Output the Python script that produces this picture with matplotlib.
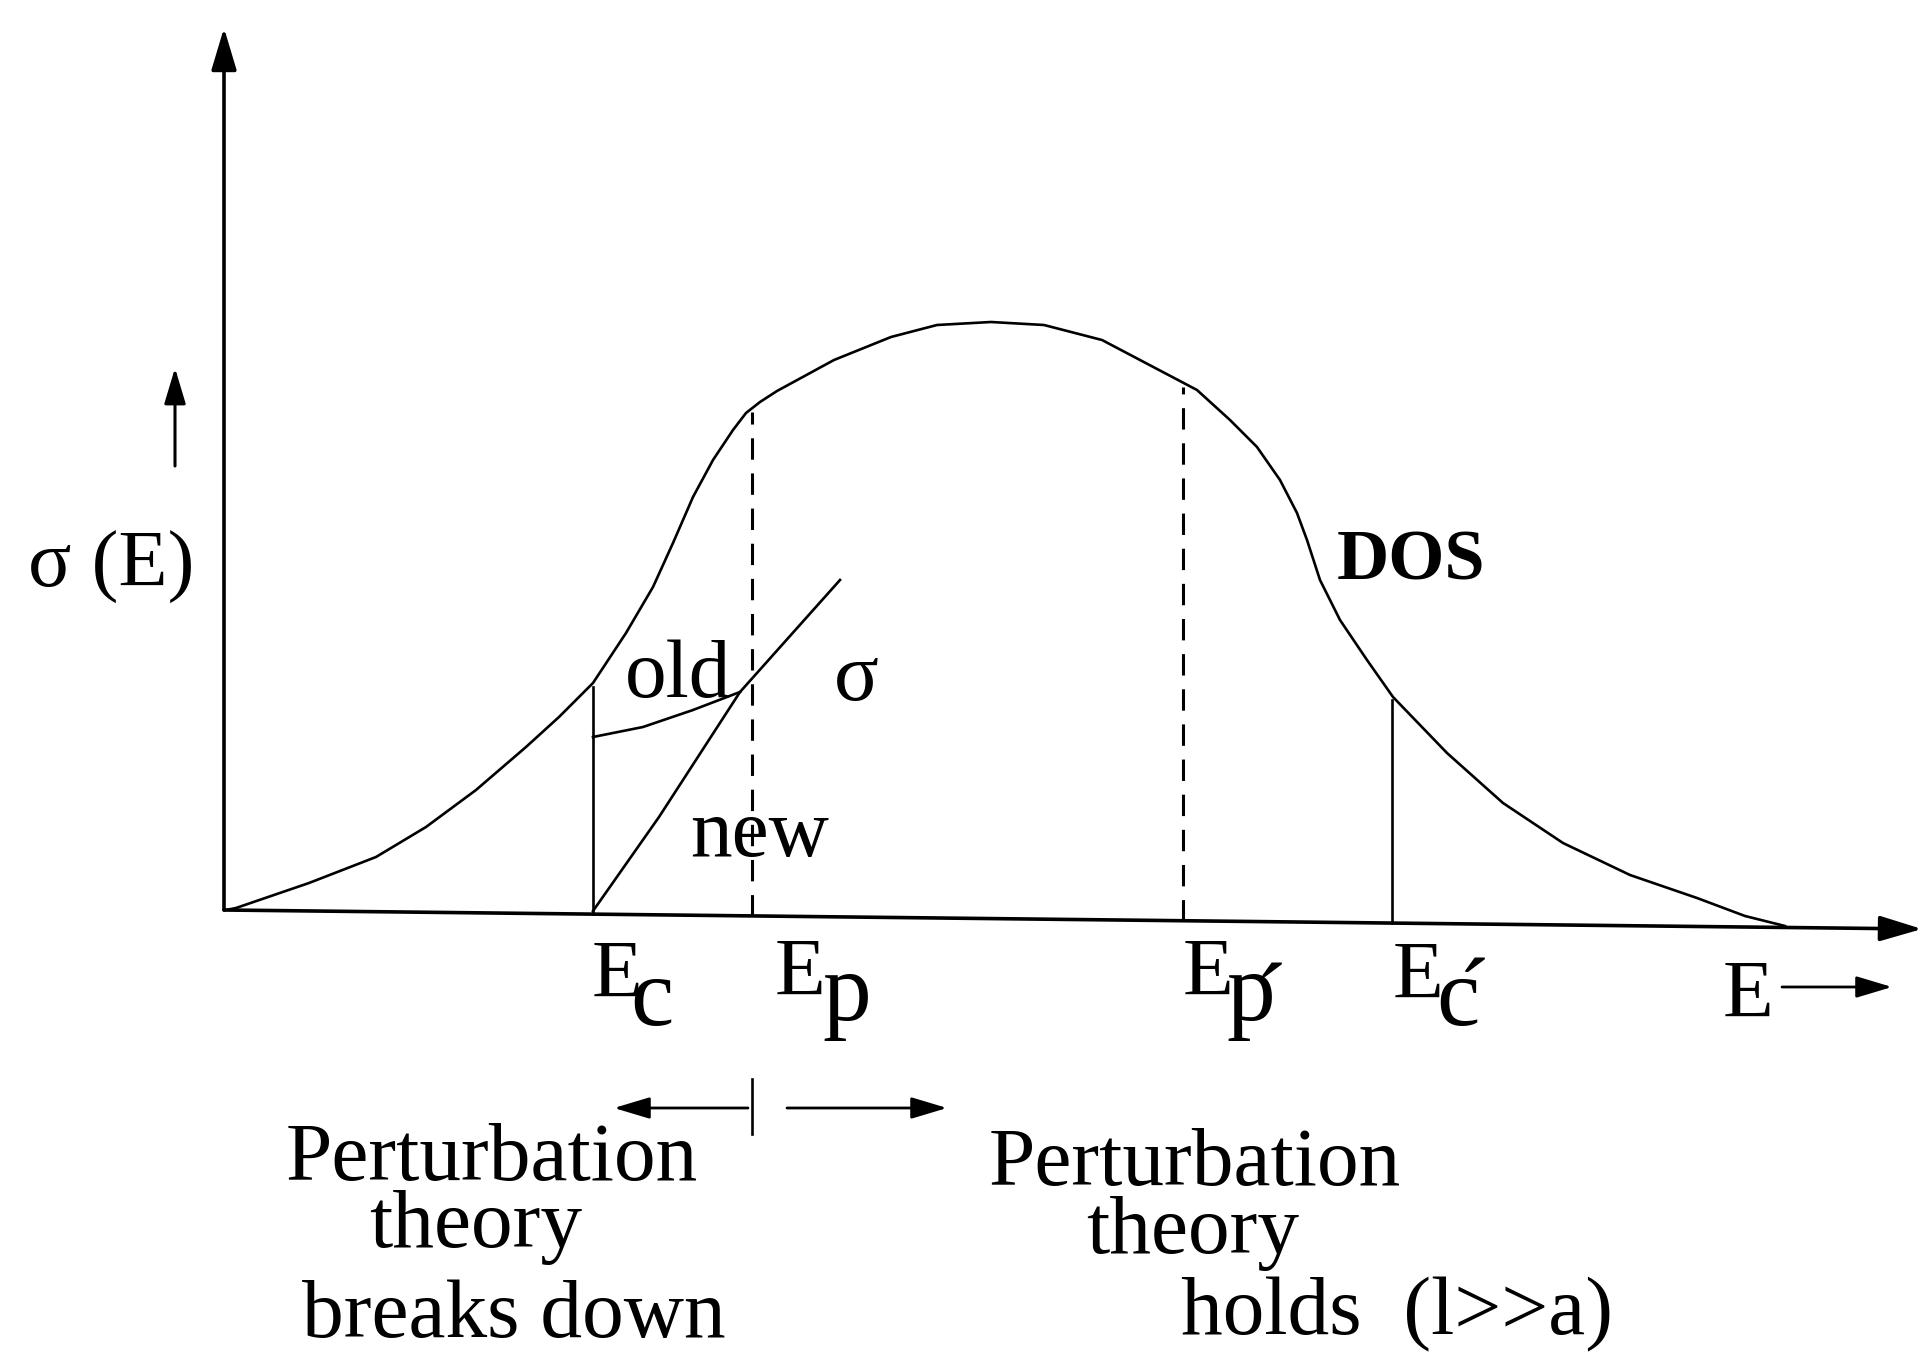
import matplotlib
matplotlib.use("Agg")
from matplotlib import pyplot as plt
import numpy as np

plt.rcParams['font.family'] = ['Liberation Serif', 'DejaVu Serif']

# DOS curve (pixel-like units, y grows downward)
dos_x = [226, 236, 309, 376, 426, 476, 526, 559, 593, 626, 653, 673, 693, 713, 733,
         746, 760, 777, 834, 891, 937, 991, 1044, 1102, 1159, 1197, 1230, 1257, 1280,
         1297, 1307, 1320, 1340, 1367, 1393, 1447, 1503, 1563, 1630, 1697, 1745, 1785]
dos_y = [910, 908, 883, 857, 827, 790, 747, 717, 683, 633, 587, 543, 497, 460, 430,
         413, 402, 391, 360, 337, 325, 322, 325, 340, 370, 390, 420, 447, 480,
         513, 540, 580, 620, 660, 697, 753, 803, 843, 875, 898, 916, 926]

# sigma branches near the mobility edge
old_x = [593, 643, 693, 740]
old_y = [737, 727, 710, 692]
new_x = [593, 659, 740, 840]
new_y = [911, 817, 692, 580]

# energy markers
E_c, E_p, E_p2, E_c2 = 593, 752, 1183, 1392

# axes
x_axis = ([224, 1922], [910, 929])
y_axis = ([224, 224], [910, 28])


def axis_y(x):
    return np.interp(x, x_axis[0], x_axis[1])


def dos_at(x):
    return np.interp(x, dos_x, dos_y)


def arrow(ax, x0, y0, x1, y1, lw=2.2, scale=26):
    ax.annotate('', xy=(x1, y1), xytext=(x0, y0),
                arrowprops=dict(arrowstyle='-|>,head_length=1.0,head_width=0.3',
                                lw=lw, color='black', mutation_scale=scale,
                                shrinkA=0, shrinkB=0))


fig = plt.figure(figsize=(19.23, 13.52), dpi=100)
ax = fig.add_axes([0, 0, 1, 1])
ax.set_xlim(0, 1923)
ax.set_ylim(1352, 0)
ax.axis('off')

# axes with arrows
arrow(ax, x_axis[0][0], x_axis[1][0], x_axis[0][1], x_axis[1][1], lw=2.6, scale=26)
arrow(ax, y_axis[0][0], y_axis[1][0], y_axis[0][1], y_axis[1][1], lw=2.6, scale=26)

lw = 1.9
ax.plot(dos_x, dos_y, color='black', lw=lw, solid_joinstyle='round')
ax.plot(old_x, old_y, color='black', lw=lw, solid_joinstyle='round')
ax.plot(new_x, new_y, color='black', lw=lw, solid_joinstyle='round')

for xe in (E_c, E_c2):
    ax.plot([xe, xe], [axis_y(xe), dos_at(xe) + 4], color='black', lw=lw)
for xe in (E_p, E_p2):
    ax.plot([xe, xe], [axis_y(xe), dos_at(xe) + 4], color='black', lw=2.2,
            linestyle=(0, (7, 4.5)))

# sigma(E) label with small up arrow
ax.text(28, 587, 'σ (E)', fontsize=58, ha='left', va='baseline')
arrow(ax, 175, 466, 175, 368, lw=2.2, scale=22)

fs = 60
ax.text(625, 697, 'old', fontsize=fs, ha='left', va='baseline')
ax.text(834, 700, 'σ', fontsize=fs, ha='left', va='baseline')
ax.text(690, 856, 'new', fontsize=fs, ha='left', va='baseline')
ax.text(1337, 580, 'DOS', fontsize=52, fontweight='bold', ha='left', va='baseline')

# energy labels below the axis
efs, sfs = 60, 70
ax.text(592, 997, 'E', fontsize=efs, ha='left', va='baseline')
ax.text(630, 1025, 'c', fontsize=sfs, ha='left', va='baseline')
ax.text(775, 995, 'E', fontsize=efs, ha='left', va='baseline')
ax.text(822, 1020, 'p', fontsize=sfs, ha='left', va='baseline')
ax.text(1183, 995, 'E', fontsize=efs, ha='left', va='baseline')
ax.text(1226, 1020, 'p', fontsize=sfs, ha='left', va='baseline')
ax.text(1255, 1030, '´', fontsize=sfs, ha='left', va='baseline')
ax.text(1393, 998, 'E', fontsize=efs, ha='left', va='baseline')
ax.text(1436, 1025, 'c', fontsize=sfs, ha='left', va='baseline')
ax.text(1458, 1025, '´', fontsize=sfs, ha='left', va='baseline')
ax.text(1723, 1017, 'E', fontsize=efs, ha='left', va='baseline')
arrow(ax, 1782, 987, 1892, 987, lw=2.0, scale=22)

# regime marker
ax.plot([E_p, E_p], [1079, 1134], color='black', lw=lw)
arrow(ax, 748, 1108, 614, 1108, lw=2.0, scale=22)
arrow(ax, 787, 1108, 947, 1108, lw=2.0, scale=22)

left_lines = ['Perturbation', 'theory', 'breaks down']
left_cx = [492, 476, 514]
left_base = [1180, 1247, 1337]
right_lines = ['Perturbation', 'theory', 'holds  (l>>a)']
right_cx = [1195, 1193, 1397]
right_base = [1185, 1253, 1334]
for t, cx, by in zip(left_lines, left_cx, left_base):
    ax.text(cx, by, t, fontsize=fs, ha='center', va='baseline')
for t, cx, by in zip(right_lines, right_cx, right_base):
    ax.text(cx, by, t, fontsize=fs, ha='center', va='baseline')

fig.savefig('out.png', dpi=100, facecolor='white')
